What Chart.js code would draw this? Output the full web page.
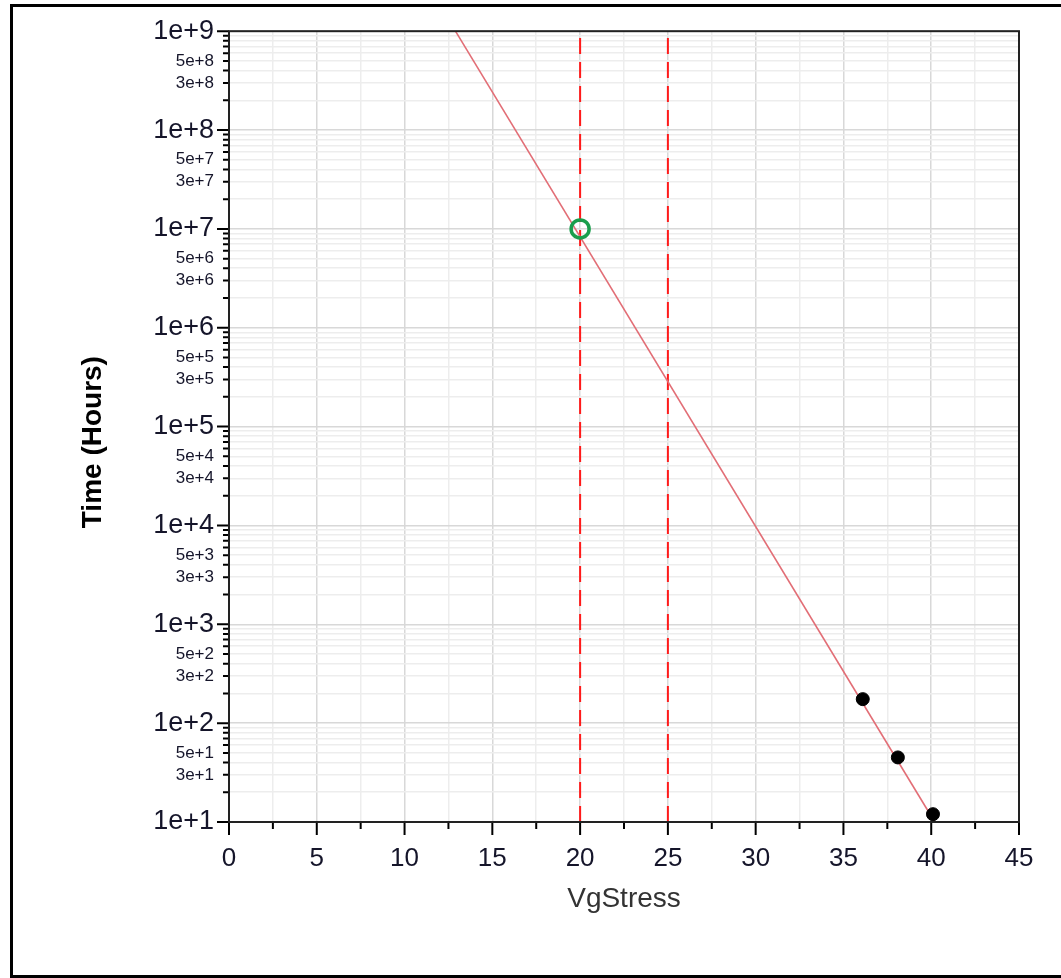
<!DOCTYPE html>
<html lang="en">

<head>
    <script src="https://cdn.jsdelivr.net/npm/chart.js"></script>
    <style>
        body { margin: 0; background: #fff; }
        #wrap { position: relative; width: 1061px; height: 978px; overflow: hidden; }
        #frame {
            position: absolute; left: 10px; top: 4px; width: 1100px; height: 974px;
            box-sizing: border-box; border: 3px solid #000; pointer-events: none;
        }
    </style>
</head>

<body>
    <div id="wrap">
        <canvas id="LifeChart" width="1061" height="978"></canvas>
        <div id="frame"></div>
    </div>

    <script>
        // Measured stress points (VgStress, hours)
        var stressX = [36.1, 38.1, 40.1];
        var stressY = [175, 45, 12];

        // Extrapolated fit line (end points)
        var fitX = [12.9, 40.2];
        var fitY = [1e9, 1e1];

        // Target point
        var targetX = [20];
        var targetY = [1e7];

        // Vertical reference lines
        var refLines = [20, 25];

        // Axis ranges / ticks
        var xMin = 0, xMax = 45, xStep = 2.5;
        var yDecades = [1, 2, 3, 4, 5, 6, 7, 8, 9];
        var yLabelMantissas = [1, 3, 5];

        var fontFamily = 'Arial, "Liberation Sans", sans-serif';

        function mantissa(v) {
            var e = Math.floor(Math.log10(v) + 1e-9);
            return Math.round(v / Math.pow(10, e));
        }

        function expLabel(v) {
            var e = Math.floor(Math.log10(v) + 1e-9);
            return mantissa(v) + 'e+' + e;
        }

        // All y grid values: 1..9 x 10^k
        var yTickValues = [];
        yDecades.forEach(function (k) {
            for (var m = 1; m <= 9; m++) yTickValues.push(m * Math.pow(10, k));
        });
        yTickValues = yTickValues.filter(function (v) { return v <= 1e9 * 1.0001; });

        // Plot frame and tick marks
        var framePlugin = {
            id: 'frameTicks',
            afterDraw: function (chart) {
                var ctx = chart.ctx, a = chart.chartArea;
                var xs = chart.scales.x, ys = chart.scales.y;
                ctx.save();
                ctx.strokeStyle = '#000';
                ctx.lineWidth = 2;
                ctx.beginPath();
                xs.ticks.forEach(function (t) {
                    var px = xs.getPixelForValue(t.value);
                    var len = (t.value % 5 === 0) ? 13 : 7;
                    ctx.moveTo(px, a.bottom);
                    ctx.lineTo(px, a.bottom + len);
                });
                ys.ticks.forEach(function (t) {
                    var py = ys.getPixelForValue(t.value);
                    var len = mantissa(t.value) === 1 ? 12 : 6;
                    ctx.moveTo(a.left, py);
                    ctx.lineTo(a.left - len, py);
                });
                ctx.stroke();
                ctx.strokeStyle = '#222';
                ctx.strokeRect(a.left, a.top, a.right - a.left, a.bottom - a.top);
                ctx.restore();
            }
        };

        var ctx = document.getElementById('LifeChart').getContext('2d');
        var myChart = new Chart(ctx, {
            type: 'scatter',
            data: {
                datasets: [
                    {
                        label: 'target',
                        data: targetX.map(function (x, i) { return { x: x, y: targetY[i] }; }),
                        pointRadius: 9,
                        pointBorderWidth: 3.5,
                        pointBorderColor: '#1a9e4c',
                        pointBackgroundColor: 'rgba(0,0,0,0)',
                        showLine: false,
                        order: 0
                    },
                    {
                        label: 'measured',
                        data: stressX.map(function (x, i) { return { x: x, y: stressY[i] }; }),
                        pointRadius: 6.5,
                        pointBackgroundColor: '#000',
                        pointBorderColor: '#000',
                        showLine: false,
                        order: 1
                    },
                    {
                        label: 'fit',
                        data: fitX.map(function (x, i) { return { x: x, y: fitY[i] }; }),
                        showLine: true,
                        borderColor: 'rgb(226, 110, 118)',
                        borderWidth: 1.6,
                        pointRadius: 0,
                        order: 2
                    }
                ].concat(refLines.map(function (v) {
                    return {
                        label: 'ref ' + v,
                        data: [{ x: v, y: 1e1 }, { x: v, y: 1e9 }],
                        showLine: true,
                        borderColor: '#ff1a1a',
                        borderWidth: 2,
                        borderDash: [16, 8],
                        pointRadius: 0,
                        order: 3
                    };
                }))
            },
            options: {
                responsive: false,
                animation: false,
                clip: false,
                layout: { padding: { top: 31, right: 42, left: 0, bottom: 0 } },
                plugins: {
                    legend: { display: false },
                    tooltip: { enabled: false }
                },
                scales: {
                    x: {
                        type: 'linear',
                        min: xMin,
                        max: xMax,
                        afterFit: function (s) { s.height = 156; },
                        ticks: {
                            stepSize: xStep,
                            autoSkip: false,
                            maxRotation: 0,
                            padding: 21,
                            color: '#15152a',
                            font: { family: fontFamily, size: 26 },
                            callback: function (v) { return v % 5 === 0 ? String(v) : ''; }
                        },
                        grid: {
                            drawTicks: false,
                            lineWidth: 1.5,
                            color: function (c) {
                                return (c.tick && c.tick.value % 5 === 0) ? '#d8d8d8' : '#ededed';
                            }
                        },
                        border: { display: false },
                        title: {
                            display: true,
                            text: 'VgStress',
                            color: '#333',
                            font: { family: fontFamily, size: 28 },
                            padding: { top: 0, bottom: 62 }
                        }
                    },
                    y: {
                        type: 'logarithmic',
                        min: 1e1,
                        max: 1e9,
                        afterFit: function (s) { s.width = 229; },
                        afterBuildTicks: function (s) {
                            s.ticks = yTickValues.map(function (v) { return { value: v }; });
                        },
                        ticks: {
                            autoSkip: false,
                            padding: 15,
                            color: '#15152a',
                            font: function (c) {
                                var big = c.tick && mantissa(c.tick.value) === 1;
                                return { family: fontFamily, size: big ? 27 : 17 };
                            },
                            callback: function (v) {
                                return yLabelMantissas.indexOf(mantissa(v)) >= 0 ? expLabel(v) : '';
                            }
                        },
                        grid: {
                            drawTicks: false,
                            lineWidth: 1.5,
                            color: function (c) {
                                return (c.tick && mantissa(c.tick.value) === 1) ? '#d8d8d8' : '#ededed';
                            }
                        },
                        border: { display: false },
                        title: {
                            display: true,
                            // trailing spaces nudge the rotated title down to match the original
                            text: 'Time (Hours)    ',
                            color: '#000',
                            font: { family: fontFamily, size: 28, weight: 'bold' },
                            padding: { top: 76, bottom: 0 }
                        }
                    }
                }
            },
            plugins: [framePlugin]
        });
    </script>
</body>

</html>
